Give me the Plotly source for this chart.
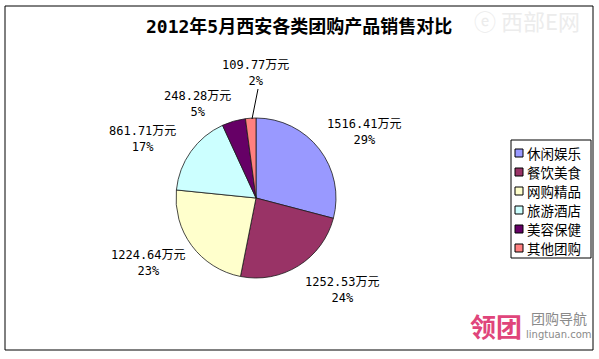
import plotly.graph_objects as go

W, H = 599, 359

categories = ["休闲娱乐", "餐饮美食", "网购精品", "旅游酒店", "美容保健", "其他团购"]
values = [1516.41, 1252.53, 1224.64, 861.71, 248.28, 109.77]
colors = ["#9999FF", "#993366", "#FFFFCC", "#CCFFFF", "#660066", "#FF8080"]
title = "2012年5月西安各类团购产品销售对比"

# label anchor positions in pixels (layout only)
label_pos = [(364, 132), (342, 290), (148, 263), (142, 139), (197, 104), (255, 73)]

total = sum(values)
labels_text = [f"{v:.2f}万元<br>{round(v / total * 100):.0f}%" for v in values]

FONT = "Noto Sans CJK SC, SimSun, sans-serif"
LFONT = "DejaVu Sans Mono, Noto Sans CJK SC, monospace"


def px(x):
    return x / W


def py(y):
    return 1 - y / H


def note(x, y, text, font, xanchor="center"):
    return dict(x=px(x), y=py(y), xref="paper", yref="paper", text=text,
                xanchor=xanchor, yanchor="middle", showarrow=False, align="center", font=font)


cx, cy, r = 256, 198, 80

fig = go.Figure(go.Pie(
    labels=categories,
    values=values,
    sort=False,
    direction="clockwise",
    rotation=0,
    marker=dict(colors=colors, line=dict(color="#1a1a1a", width=0.8)),
    textinfo="none",
    hoverinfo="label+value+percent",
    domain=dict(x=[px(cx - r), px(cx + r)], y=[py(cy + r), py(cy - r)]),
    showlegend=False,
))

ann = []
for (lx, ly), t in zip(label_pos, labels_text):
    ann.append(note(lx, ly, t, dict(family=LFONT, size=12, color="#000")))

ann.append(note(299, 27, f"<b>{title}</b>", dict(family=LFONT, size=18, color="#000")))
# watermarks
ann.append(note(527, 20, "ⓔ 西部E网", dict(family=FONT, size=22, color="#ececec")))
ann.append(note(496, 325, "<b>领团</b>", dict(family=FONT, size=26, color="#E0457B")))
ann.append(note(559, 318, "团购导航", dict(family=FONT, size=14, color="#8a8a8a")))
ann.append(note(559, 334, "lingtuan.com", dict(family="DejaVu Sans, sans-serif", size=10, color="#8a8a8a")))

shapes = [
    dict(type="rect", xref="paper", yref="paper", x0=px(5), x1=px(593), y0=py(350), y1=py(6),
         line=dict(color="#000", width=1)),
    dict(type="line", xref="paper", yref="paper", x0=px(258), y0=py(89), x1=px(252), y1=py(119),
         line=dict(color="#000", width=1)),
    # legend box
    dict(type="rect", xref="paper", yref="paper", x0=px(511), x1=px(591), y0=py(258), y1=py(140),
         line=dict(color="#000", width=1), fillcolor="white", layer="below"),
]

# legend entries (layout)
row0, gap = 153, 19
for i, (cat, col) in enumerate(zip(categories, colors)):
    yc = row0 + i * gap
    shapes.append(dict(type="rect", xref="paper", yref="paper", x0=px(515), x1=px(523),
                       y0=py(yc + 4), y1=py(yc - 4), fillcolor=col, line=dict(color="#000", width=1)))
    ann.append(note(525, yc, cat, dict(family=FONT, size=13.5, color="#000"), xanchor="left"))

fig.update_layout(
    width=W, height=H,
    margin=dict(l=0, r=0, t=0, b=0, autoexpand=False),
    paper_bgcolor="white",
    plot_bgcolor="white",
    showlegend=False,
    annotations=ann,
    shapes=shapes,
)

fig.write_html("out.html", config={"displayModeBar": False},
               post_script="document.body.style.margin='0';")
